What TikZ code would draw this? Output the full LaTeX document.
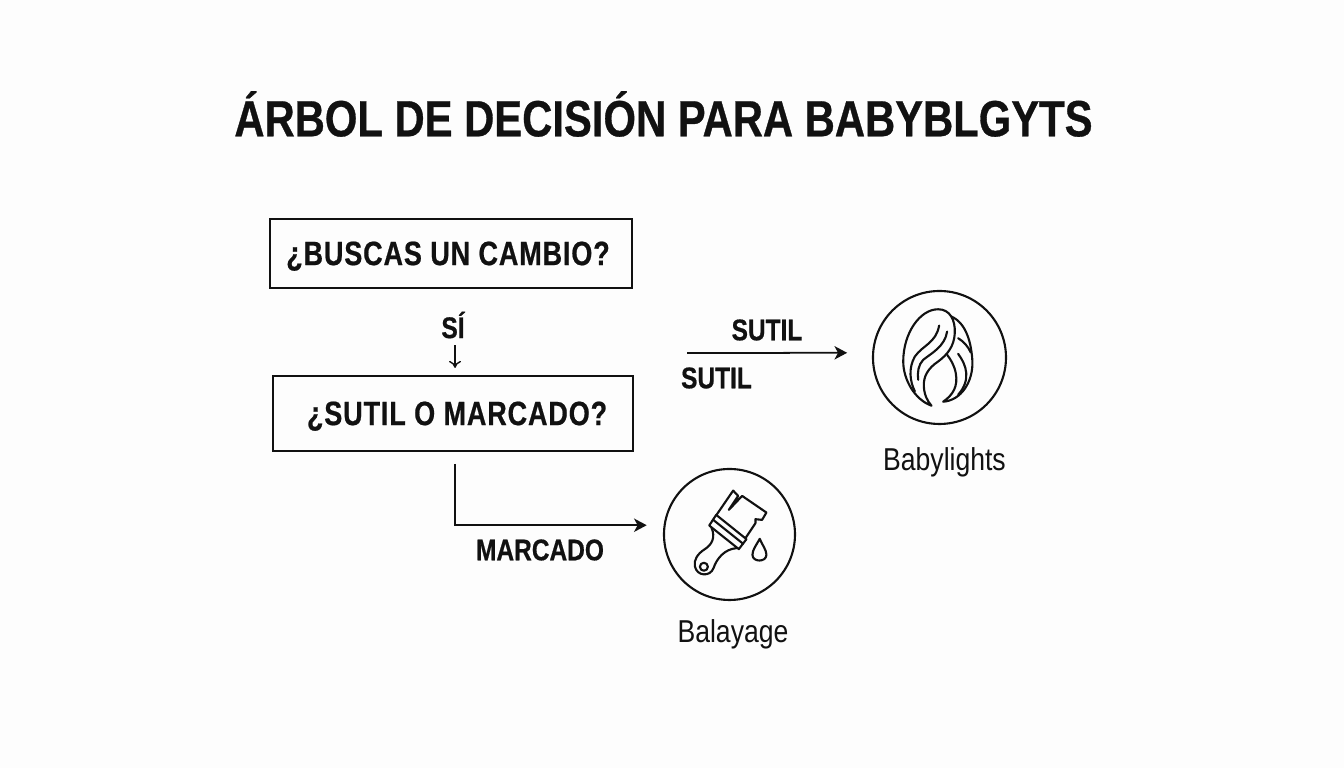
\documentclass[tikz,border=0pt]{standalone}
\usepackage{fontspec}
\usetikzlibrary{arrows.meta}
\setmainfont{Liberation Sans}
\newfontfamily\condfont[FakeStretch=0.84, BoldFeatures={FakeStretch=0.82, FakeBold=0.6}]{Liberation Sans}
\newfontfamily\boxfont[FakeStretch=0.8, BoldFeatures={FakeStretch=0.8, FakeBold=0.6, LetterSpace=2.6}]{Liberation Sans}
\definecolor{inkblack}{HTML}{111111}
\definecolor{paperwhite}{HTML}{FDFDFD}
\begin{document}
\begin{tikzpicture}[
  every node/.style={text=inkblack, inner sep=0pt},
  titlelabel/.style={font=\condfont\fontsize{14.5}{16}\selectfont\bfseries},
  boxtext/.style={font=\boxfont\fontsize{9.6}{11}\selectfont\bfseries},
  questionbox/.style={rectangle, draw=inkblack, line width=0.6pt, boxtext, text height=6.6pt, text depth=0pt},
  arrowlabel/.style={font=\condfont\fontsize{8.5}{10}\selectfont\bfseries},
  iconlabel/.style={font=\condfont\fontsize{9}{11}\selectfont},
  iconcircle/.style={circle, draw=inkblack, line width=0.6pt},
  iconline/.style={draw=inkblack, line width=0.6pt, line cap=round, line join=round},
  flowarrow/.style={-{Stealth[length=3.6pt, width=3.8pt, inset=1pt]}, draw=inkblack, line width=0.5pt},
  smallarrow/.style={-{To[length=2pt, width=3.4pt]}, draw=inkblack, line width=0.4pt}]
\useasboundingbox[fill=paperwhite] (0,0) rectangle (13.44,7.68);
\node[titlelabel] (title) at (6.635, 6.54) {ÁRBOL DE DECISIÓN PARA BABYBLGYTS};
\node[questionbox, minimum width=3.62cm, minimum height=0.69cm] (cambio) at (4.51, 5.145) {\hspace*{-1.7pt}¿BUSCAS UN CAMBIO?};
\node[questionbox, minimum width=3.60cm, minimum height=0.75cm] (sutilbox) at (4.53, 3.545) {\hspace*{2.3pt}¿SUTIL O MARCADO?};
\node[arrowlabel] (si) at (4.53, 4.43) {SÍ};
\node[arrowlabel] (sutiltop) at (7.67, 4.38) {SUTIL};
\node[arrowlabel] (sutilbottom) at (7.165, 3.90) {SUTIL};
\node[arrowlabel] (marcado) at (5.40, 2.18) {MARCADO};
\node[iconcircle, minimum size=1.33cm] (babylights) at (9.395, 4.105) {};
\node[iconcircle, minimum size=1.31cm] (balayage) at (7.295, 2.335) {};
\node[iconlabel] (babylabel) at (9.445, 3.06) {Babylights};
\node[iconlabel] (balalabel) at (7.33, 1.34) {Balayage};
\coordinate (sutilstart) at (6.87, 4.15);
\draw[smallarrow, shorten <=1.8pt, shorten >=2pt] (si.south -| sutilbox.-87) -- (sutilbox.-87 |- sutilbox.north);
\draw[flowarrow, shorten <=3.4pt, shorten >=4.8pt] (sutilbox.-87) |- (balayage.172);
\draw[flowarrow, shorten >=7.1pt] (sutilstart) -- (babylights.176);
% hair
\begin{scope}[shift={(8.60, 4.88)}, x=0.003333cm, y=-0.003333cm]
\draw[iconline] (215,378) .. controls (165,360) and (130,300) .. (130,245) .. controls (130,160) and (180,88) .. (235,88) .. controls (270,88) and (287,120) .. (285,160) .. controls (283,200) and (262,225) .. (235,245) .. controls (205,265) and (190,290) .. (192,320) .. controls (193,345) and (203,365) .. (215,378);
\draw[iconline] (275,110) .. controls (320,130) and (335,190) .. (338,245) .. controls (340,305) and (305,362) .. (250,366) .. controls (280,345) and (295,320) .. (288,280) .. controls (283,255) and (272,238) .. (262,225);
\draw[iconline] (238,137) .. controls (228,190) and (190,195) .. (165,230) .. controls (145,265) and (150,305) .. (165,335);
\draw[iconline] (262,155) .. controls (255,200) and (215,220) .. (190,240) .. controls (175,255) and (172,280) .. (175,300);
\draw[iconline] (295,175) .. controls (312,185) and (325,200) .. (333,218);
\draw[iconline] (295,222) .. controls (320,255) and (335,300) .. (295,345);
\end{scope}
% brush
\begin{scope}[shift={(6.55, 3.08)}, x=0.003333cm, y=-0.003333cm]
\draw[iconline] (185,165) -- (235,92) -- (250,108) -- (222,150) -- (262,108) -- (335,158) -- (322,180) -- (302,178) -- (302,190) -- (272,235);
\draw[iconline] (184,165) -- (275,238) -- (252,268) -- (163,197) -- cycle;
\draw[iconline] (175,180) -- (265,252);
\draw[iconline] (170,204) .. controls (182,232) and (172,254) .. (150,268) .. controls (128,282) and (116,300) .. (120,320) .. controls (126,350) and (166,352) .. (176,325) .. controls (186,295) and (210,268) .. (245,265);
\draw[iconline] (147,321) circle (12);
\draw[iconline] (315,237) .. controls (305,255) and (293,270) .. (293,285) .. controls (293,308) and (335,308) .. (335,285) .. controls (335,270) and (322,255) .. (315,237);
\end{scope}
\end{tikzpicture}
\end{document}
